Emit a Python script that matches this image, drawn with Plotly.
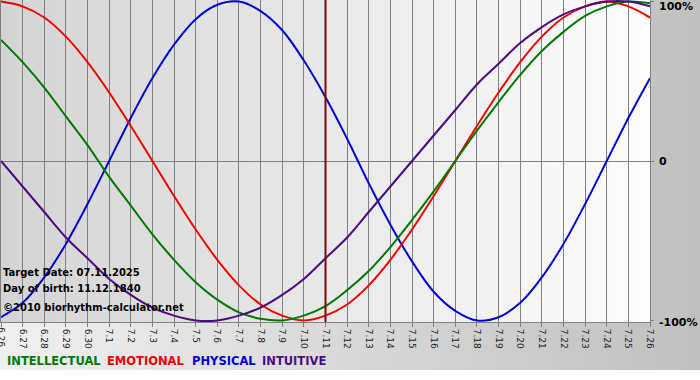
import plotly.graph_objects as go

dates = ["6.26", "6.27", "6.28", "6.29", "6.30", "7.1", "7.2", "7.3", "7.4", "7.5",
         "7.6", "7.7", "7.8", "7.9", "7.10", "7.11", "7.12", "7.13", "7.14", "7.15",
         "7.16", "7.17", "7.18", "7.19", "7.20", "7.21", "7.22", "7.23", "7.24", "7.25", "7.26"]

physical = [-98, -89, -73, -52, -27, 0, 27, 52, 73, 89, 98, 100, 94, 82, 63, 40,
            14, -14, -40, -63, -82, -94, -100, -98, -89, -73, -52, -27, 0, 27, 52]
emotional = [100, 97, 90, 78, 62, 43, 22, 0, -22, -43, -62, -78, -90, -97, -100, -97,
             -90, -78, -62, -43, -22, 0, 22, 43, 62, 78, 90, 97, 100, 97, 90]
intellectual = [76, 62, 46, 28, 10, -10, -28, -46, -62, -76, -87, -95, -99, -100, -97, -91,
                -81, -69, -54, -37, -19, 0, 19, 37, 54, 69, 81, 91, 97, 100, 99]
intuitive = [0, -16, -32, -48, -61, -74, -84, -92, -97, -100, -100, -97, -92, -84, -74, -61,
             -48, -32, -16, 0, 16, 32, 48, 61, 74, 84, 92, 97, 100, 100, 97]

target_date = "7.11"
series_names = ["INTELLECTUAL", "EMOTIONAL", "PHYSICAL", "INTUITIVE"]
y_ticks = [100, 0, -100]
y_labels = ["100%", "0", "-100%"]
info_lines = ["Target Date: 07.11.2025", "Day of birth: 11.12.1840", "\u00a92010 biorhythm-calculator.net"]

W, H = 700, 380
L, R, T, B = 1, 50, 0, 58
PW, PH = W - L - R, H - T - B

def px(xp):
    return (xp - L) / PW

def py(yp):
    return (T + PH - yp) / PH

def gray(v):
    v = int(round(v))
    return f"rgb({v},{v},{v})"

x = list(range(len(dates)))
colors = {"PHYSICAL": "#0000cc", "EMOTIONAL": "#ee0000", "INTELLECTUAL": "#007800", "INTUITIVE": "#4b0a82"}

fig = go.Figure()
for name, vals in [("PHYSICAL", physical), ("EMOTIONAL", emotional),
                   ("INTELLECTUAL", intellectual), ("INTUITIVE", intuitive)]:
    fig.add_trace(go.Scatter(x=x, y=vals, mode="lines", name=name,
                             line=dict(color=colors[name], width=2, shape="spline", smoothing=1.0),
                             hoverinfo="skip"))

shapes = []
# outer background gradient (light left -> gray right)
n = 70
for k in range(n):
    x0 = k * W / n
    x1 = (k + 1) * W / n + 0.6
    c = 240 - (240 - 192) * (k + 0.5) / n
    shapes.append(dict(type="rect", xref="paper", yref="paper", x0=px(x0), x1=px(x1),
                       y0=py(370), y1=py(-2), fillcolor=gray(c), line=dict(width=0), layer="below"))
# plot area gradient (gray left -> white right)
n2 = 65
for k in range(n2):
    x0 = L + k * PW / n2
    x1 = L + (k + 1) * PW / n2 + 0.6
    c = 212 + (253 - 212) * (k + 0.5) / n2
    shapes.append(dict(type="rect", xref="paper", yref="paper", x0=px(x0), x1=min(px(x1), 1.0),
                       y0=0, y1=1, fillcolor=gray(c), line=dict(width=0), layer="below"))
# target date marker
shapes.append(dict(type="line", xref="x", yref="paper", x0=dates.index(target_date),
                   x1=dates.index(target_date), y0=0, y1=1,
                   line=dict(color="#7d0a0a", width=2), layer="above"))

annotations = []
for i, (txt, yy) in enumerate(zip(info_lines, [272, 288, 307])):
    annotations.append(dict(text=f"<b>{txt}</b>", xref="paper", yref="paper", x=px(0.5), y=py(yy),
                            xanchor="left", yanchor="middle", showarrow=False,
                            font=dict(family="DejaVu Sans", size=10, color="black")))
for lab, yy in zip(y_labels, [7, 162, 322]):
    annotations.append(dict(text=f"<b>{lab}</b>", xref="paper", yref="paper", x=px(657), y=py(yy),
                            xanchor="left", yanchor="middle", showarrow=False,
                            font=dict(family="DejaVu Sans", size=11, color="black")))
for name, xx in zip(series_names, [5, 105, 190, 260]):
    annotations.append(dict(text=f"<b>{name}</b>", xref="paper", yref="paper", x=px(xx), y=py(361),
                            xanchor="left", yanchor="middle", showarrow=False,
                            font=dict(family="DejaVu Sans", size=11.5, color=colors[name])))
# first date label (clipped at the left edge in the reference)
annotations.append(dict(text=dates[0], xref="x", yref="paper", x=0, y=py(325),
                        xanchor="center", yanchor="top", textangle=90, showarrow=False,
                        font=dict(family="DejaVu Sans", size=9, color="#222222")))

fig.update_layout(
    width=W, height=H, margin=dict(l=L, r=R, t=T, b=B, pad=0),
    paper_bgcolor="white", plot_bgcolor="rgba(0,0,0,0)",
    showlegend=False, shapes=shapes, annotations=annotations,
    xaxis=dict(range=[0, len(dates) - 1], tickmode="array", tickvals=x, ticktext=dates,
               tickangle=90, ticks="outside", ticklen=4, tickcolor="#808080",
               showgrid=True, gridcolor="#808080", gridwidth=1,
               showline=True, linecolor="#808080", linewidth=1, mirror=True,
               zeroline=False, fixedrange=True,
               tickfont=dict(family="DejaVu Sans", size=9, color="#222222")),
    yaxis=dict(range=[-101, 101], side="right", tickmode="array", tickvals=y_ticks,
               showticklabels=False, ticks="outside", ticklen=3, tickcolor="#808080",
               showgrid=False, zeroline=True, zerolinecolor="#808080", zerolinewidth=1,
               showline=True, linecolor="#808080", linewidth=1, mirror=True, fixedrange=True),
)

fig.write_html("out.html", config={"displayModeBar": False},
               post_script="document.body.style.margin='0px';document.body.style.padding='0px';")
